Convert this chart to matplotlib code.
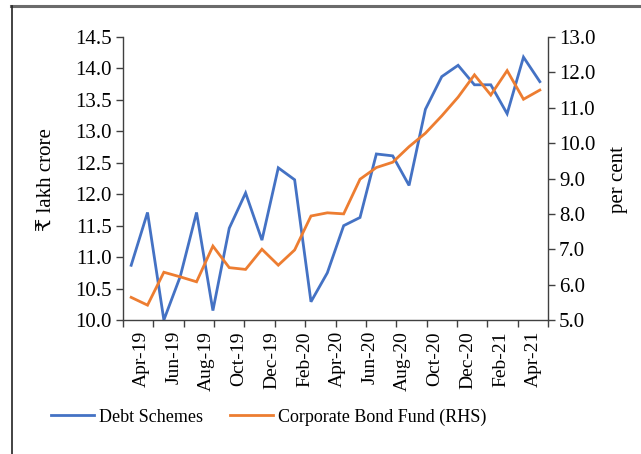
import matplotlib
matplotlib.use("Agg")
import matplotlib.pyplot as plt
from matplotlib.lines import Line2D
import numpy as np

months = ["Apr-19", "May-19", "Jun-19", "Jul-19", "Aug-19", "Sep-19", "Oct-19", "Nov-19",
          "Dec-19", "Jan-20", "Feb-20", "Mar-20", "Apr-20", "May-20", "Jun-20", "Jul-20",
          "Aug-20", "Sep-20", "Oct-20", "Nov-20", "Dec-20", "Jan-21", "Feb-21", "Mar-21",
          "Apr-21", "May-21"]
debt_schemes = [10.87, 11.71, 10.00, 10.69, 11.71, 10.15, 11.46, 12.02, 11.27, 12.42,
                12.23, 10.29, 10.75, 11.50, 11.63, 12.64, 12.61, 12.14, 13.35, 13.87,
                14.05, 13.74, 13.74, 13.28, 14.18, 13.79]
corp_bond = [5.64, 5.42, 6.35, 6.22, 6.08, 7.09, 6.48, 6.43, 7.00, 6.55,
             6.98, 7.94, 8.03, 8.00, 8.98, 9.31, 9.46, 9.90, 10.28, 10.77,
             11.30, 11.93, 11.36, 12.05, 11.24, 11.50]
left_ticks = [10.0, 10.5, 11.0, 11.5, 12.0, 12.5, 13.0, 13.5, 14.0, 14.5]
right_ticks = [5.0, 6.0, 7.0, 8.0, 9.0, 10.0, 11.0, 12.0, 13.0]

FONT = ["Liberation Serif", "DejaVu Serif"]
plt.rcParams["font.family"] = FONT
FS_Y = 15
FS_X = 14
FS_LAB = 15
FS_LEG = 13
BLUE = "#4472C4"
ORANGE = "#ED7D31"
SPINE = "#404040"

fig = plt.figure(figsize=(6.41, 4.54), dpi=100)
ax = fig.add_axes([123/641, 1-320/454, 425/641, 283/454])
ax2 = ax.twinx()

x = np.arange(len(months))
ax.plot(x, debt_schemes, color=BLUE, lw=2.0, solid_joinstyle="miter")
ax2.plot(x, corp_bond, color=ORANGE, lw=2.0, solid_joinstyle="miter")

ax.set_xlim(-0.5, len(months) - 0.5)
ax.set_ylim(10.0, 14.5)
ax2.set_ylim(5.0, 13.0)

ax.set_yticks(left_ticks)
ax.set_yticklabels([f"{v:.1f}" for v in left_ticks], fontsize=FS_Y)
ax2.set_yticks(right_ticks)
ax2.set_yticklabels([f"{v:.1f}" for v in right_ticks], fontsize=FS_Y)

lab_idx = list(range(0, len(months), 2))[:13]
ax.set_xticks([i + 0.6 for i in lab_idx])
ax.set_xticklabels([months[i] for i in lab_idx], rotation=90, fontsize=FS_X)
ax.set_xticks(np.linspace(-0.5, len(months) - 0.5, 15), minor=True)
ax.tick_params(axis="x", which="major", length=0, pad=8)
ax.tick_params(axis="x", which="minor", length=5, width=1, color=SPINE, direction="out")
ax.tick_params(axis="y", length=5, width=1, color=SPINE, pad=3)
ax2.tick_params(axis="y", length=5, width=1, color=SPINE, pad=3)

for a in (ax, ax2):
    a.spines["top"].set_visible(False)
    for s in ("left", "right", "bottom"):
        a.spines[s].set_color(SPINE)
        a.spines[s].set_linewidth(1)
ax.spines["right"].set_visible(False)
ax2.spines["left"].set_visible(False)
ax2.spines["bottom"].set_visible(False)

fig.text(47/641, 1-180/454, "₹ lakh crore", rotation=90, ha="center", va="center",
         fontsize=FS_LAB, family=FONT)
fig.text(618/641, 1-179/454, "per cent", rotation=90, ha="center", va="center",
         fontsize=FS_LAB, family=FONT)

handles = [Line2D([], [], color=BLUE, lw=2.0), Line2D([], [], color=ORANGE, lw=2.0)]
fig.legend(handles, ["Debt Schemes", "Corporate Bond Fund (RHS)"], loc="center",
           bbox_to_anchor=(268.5/641, 1-417/454), ncol=2, frameon=False, fontsize=FS_LEG,
           handlelength=2.4, handletextpad=0.27, columnspacing=1.5)

# outer frame (top and left edges)
fig.add_artist(Line2D([11/641, 1], [1-6/454, 1-6/454], transform=fig.transFigure,
                      color="#6b6b6b", lw=2.2))
fig.add_artist(Line2D([11.5/641, 11.5/641], [0, 1-6/454], transform=fig.transFigure,
                      color="#222222", lw=1.2))

fig.savefig("out.png", dpi=100)
